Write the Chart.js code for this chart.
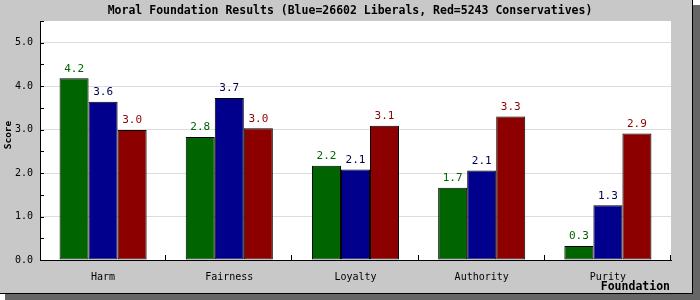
<!DOCTYPE html>
<html>
<head>
<meta charset="utf-8">
<script src="https://cdn.jsdelivr.net/npm/chart.js@4/dist/chart.umd.min.js"></script>
<style>
  html, body { margin: 0; padding: 0; background: #fff; }
  #wrap { width: 700px; height: 300px; }
</style>
</head>
<body>
<div id="wrap"><canvas id="moralChart" width="700" height="300"></canvas></div>
<script>
const categories = ['Harm', 'Fairness', 'Loyalty', 'Authority', 'Purity'];
const green = [4.18, 2.83, 2.17, 1.66, 0.32];
const liberals = [3.64, 3.73, 2.08, 2.06, 1.26];
const conservatives = [2.99, 3.03, 3.09, 3.30, 2.91];
const yTicks = [0, 1, 2, 3, 4, 5];
const yMinorTicks = [0.5, 1.5, 2.5, 3.5, 4.5, 5.5];

const MONO = '"DejaVu Sans Mono", monospace';

// frame, shadow, titles and the little ticks
const framePlugin = {
  id: 'frame',
  beforeDraw(chart) {
    const c = chart.ctx;
    const a = chart.chartArea;
    c.save();
    c.fillStyle = '#ffffff';
    c.fillRect(0, 0, 700, 300);
    c.fillStyle = '#666666';
    c.fillRect(693, 5, 7, 295);
    c.fillRect(5, 294, 695, 6);
    c.fillStyle = '#c8c8c8';
    c.fillRect(0, 0, 692, 293);
    c.fillStyle = '#000';
    c.fillRect(692, 0, 1, 294);
    c.fillRect(0, 293, 693, 1);
    c.fillStyle = '#ffffff';
    c.fillRect(a.left, a.top, a.right - a.left, a.bottom - a.top);

    c.fillStyle = '#000';
    c.font = 'bold 11.5px ' + MONO;
    c.textAlign = 'center';
    c.textBaseline = 'middle';
    c.fillText('Moral Foundation Results (Blue=26602 Liberals, Red=5243 Conservatives)', 350, 11);

    c.textAlign = 'right';
    c.fillText('Foundation', 670, 287);

    c.translate(9, 135);
    c.rotate(-Math.PI / 2);
    c.textAlign = 'center';
    c.font = 'bold 9.5px ' + MONO;
    c.fillText('Score', 0, 0);
    c.restore();
  },
  afterDraw(chart) {
    const c = chart.ctx;
    const a = chart.chartArea;
    const y = chart.scales.y;
    const x = chart.scales.x;
    c.save();
    c.strokeStyle = '#000';
    c.lineWidth = 1;
    c.beginPath();
    yTicks.concat(yMinorTicks).forEach(v => {
      const py = Math.round(y.getPixelForValue(v)) + 0.5;
      c.moveTo(a.left, py);
      c.lineTo(a.left + 4, py);
    });
    for (let i = 1; i <= categories.length; i++) {
      const px = Math.round(a.left + (a.right - a.left) * i / categories.length) - 0.5;
      c.moveTo(px, a.bottom);
      c.lineTo(px, a.bottom - 5);
    }
    c.stroke();
    c.restore();
  }
};

const valueLabels = {
  id: 'valueLabels',
  afterDatasetsDraw(chart) {
    const c = chart.ctx;
    c.save();
    c.font = '11px ' + MONO;
    c.textAlign = 'center';
    c.textBaseline = 'bottom';
    chart.data.datasets.forEach((ds, i) => {
      c.fillStyle = ds.labelColor;
      chart.getDatasetMeta(i).data.forEach((bar, j) => {
        c.fillText(ds.data[j].toFixed(1), bar.x, bar.y - 4);
      });
    });
    c.restore();
  }
};

new Chart(document.getElementById('moralChart'), {
  type: 'bar',
  data: {
    labels: categories,
    datasets: [
      { data: green, backgroundColor: '#006400', labelColor: '#006400' },
      { data: liberals, backgroundColor: '#00008c', labelColor: '#000050' },
      { data: conservatives, backgroundColor: '#8c0000', labelColor: '#8c0000' }
    ].map(d => Object.assign(d, {
      borderColor: '#000',
      borderWidth: 1,
      borderSkipped: false,
      categoryPercentage: 0.69,
      barPercentage: 1.0
    }))
  },
  options: {
    responsive: false,
    animation: false,
    devicePixelRatio: 1,
    layout: { padding: { left: 0, right: 29, top: 21, bottom: 0 } },
    plugins: { legend: { display: false }, tooltip: { enabled: false } },
    scales: {
      x: {
        grid: { display: false, drawTicks: false },
        border: { color: '#000' },
        ticks: { color: '#000', font: { family: MONO, size: 10 }, padding: 11, maxRotation: 0 },
        afterFit(s) { s.height = 40; }
      },
      y: {
        min: 0,
        max: 5.5,
        grid: { color: '#dddddd', drawTicks: false },
        border: { color: '#000' },
        afterBuildTicks(s) { s.ticks = yTicks.map(v => ({ value: v })); },
        ticks: {
          color: '#000',
          font: { family: MONO, size: 10 },
          padding: 7,
          callback: v => Number(v).toFixed(1)
        },
        afterFit(s) { s.width = 40; }
      }
    }
  },
  plugins: [framePlugin, valueLabels]
});
</script>
</body>
</html>
